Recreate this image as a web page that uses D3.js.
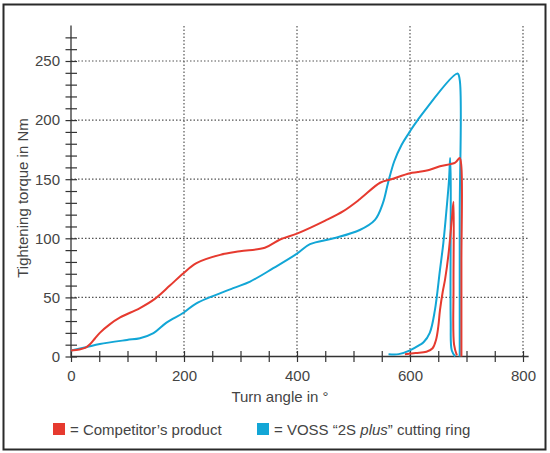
<!DOCTYPE html>
<html>
<head>
<meta charset="utf-8">
<script src="https://cdn.jsdelivr.net/npm/d3@7/dist/d3.min.js"></script>
<style>
  html, body { margin: 0; padding: 0; background: #fff; }
  svg text { font-family: "Liberation Sans", Arial, sans-serif; fill: #444; }
</style>
</head>
<body>
<svg width="550" height="453"></svg>
<script>
// turn angle (deg) / torque (Nm) pairs
var competitorRun1 = [[0,5],[15,6],[26,7.5],[34,10.5],[42,15],[51,20],[68,27],[87,33],[122,41],[149,49],[175,60],[199,70.5],[222,79],
  [264,86],[299,89],[343,92],[370,99],[400,104],[450,115],[482,123],[511,133],[547,147],[567,150],
  [600,155],[614,156],[635,158],[653,161],[680,164],[688,168],[691,160],[691,80],[691,0]];
var competitorRun2 = [[591,2],[610,3],[629,4],[640,7],[646,14],[650,25],[653,39],[658,55],[662,65],
  [668,86],[674,116],[677,131],[677,60],[678,10],[683,1]];
var vossRun1 = [[0,5],[28,8],[51,10.5],[99,14],[122,15.5],[146,19.8],[169,28.7],[199,37],[222,45],
  [287,57.8],[317,63.4],[358,74.7],[400,87],[423,95],[465,100],[511,107],[538,115.6],[552,129.7],
  [561,146.6],[572,165],[585,179],[598,189],[612,199],[684,239.5],[688,234],[688,120],[688,0]];
var vossRun2 = [[562,2],[580,2],[599,5],[618,10],[624,12],[635,20],[644,39],[653,73],[659,96],
  [664,121],[669,149],[671,168],[672,150],[672,30],[674,5],[680,0]];

var xTicks = d3.range(0, 801, 50);
var yTicks = d3.range(0, 271, 10);
var xGrid = [200, 400, 600, 800];
var yGrid = [50, 100, 150, 200, 250];

var redColor = "#e63a2f", cyanColor = "#12a6d6";

var svg = d3.select("svg");

// frame round the whole figure
svg.append("rect")
  .attr("x", 3.5).attr("y", 4.5)
  .attr("width", 542).attr("height", 445)
  .attr("fill", "none")
  .attr("stroke", "#2a2a2a")
  .attr("stroke-width", 2);

var x = d3.scaleLinear().domain([0, 800]).range([71, 523]);
var y = d3.scaleLinear().domain([0, 250]).range([356.5, 61]);

// dotted grid
var grid = svg.append("g")
  .attr("stroke", "#555")
  .attr("stroke-width", 1.2)
  .attr("stroke-dasharray", "1.5,2");

grid.selectAll(".vg").data(xGrid).enter().append("line")
  .attr("x1", d => x(d)).attr("x2", d => x(d))
  .attr("y1", y(0)).attr("y2", y(280));

grid.selectAll(".hg").data(yGrid).enter().append("line")
  .attr("x1", x(0)).attr("x2", x(808))
  .attr("y1", d => y(d)).attr("y2", d => y(d));

// axes
var xAxis = svg.append("g")
  .attr("transform", "translate(0," + y(0) + ")")
  .call(d3.axisBottom(x).tickValues(xTicks).tickSize(0).tickPadding(14)
    .tickFormat(d => d % 200 === 0 ? d : ""));
xAxis.select(".domain").remove();
xAxis.selectAll(".tick line").attr("y1", -5.5).attr("y2", 5.5);

var yAxis = svg.append("g")
  .attr("transform", "translate(" + x(0) + ",0)")
  .call(d3.axisLeft(y).tickValues(yTicks).tickSize(0).tickPadding(11)
    .tickFormat(d => d % 50 === 0 ? d : ""));
yAxis.select(".domain").remove();
yAxis.selectAll(".tick line").attr("x1", -5.5).attr("x2", 6);

svg.selectAll(".tick line").attr("stroke", "#333").attr("stroke-width", 1.2);
svg.selectAll(".tick text").style("font-size", "15px").attr("fill", "#444");

svg.append("line")
  .attr("x1", x(0)).attr("x2", x(810))
  .attr("y1", y(0)).attr("y2", y(0))
  .attr("stroke", "#333").attr("stroke-width", 1.3);
svg.append("line")
  .attr("x1", x(0)).attr("x2", x(0))
  .attr("y1", y(-1)).attr("y2", y(280))
  .attr("stroke", "#333").attr("stroke-width", 1.3);

// axis titles
svg.append("text")
  .attr("x", 280).attr("y", 402)
  .attr("text-anchor", "middle")
  .style("font-size", "15px")
  .text("Turn angle in °");

svg.append("text")
  .attr("transform", "translate(28,198) rotate(-90)")
  .attr("text-anchor", "middle")
  .style("font-size", "15px")
  .text("Tightening torque in Nm");

// curves
var line = d3.line()
  .x(d => x(d[0]))
  .y(d => y(d[1]))
  .curve(d3.curveCatmullRom.alpha(0.5));

var series = [
  {data: vossRun1, color: cyanColor},
  {data: vossRun2, color: cyanColor},
  {data: competitorRun1, color: redColor},
  {data: competitorRun2, color: redColor}
];

svg.append("g").selectAll("path").data(series).enter().append("path")
  .attr("d", d => line(d.data))
  .attr("fill", "none")
  .attr("stroke", d => d.color)
  .attr("stroke-width", 2)
  .attr("stroke-linejoin", "round");

// legend
var legend = svg.append("g");
legend.append("rect").attr("x", 53).attr("y", 423).attr("width", 12).attr("height", 12).attr("fill", redColor);
legend.append("text").attr("x", 70).attr("y", 435).style("font-size", "15px").text("= Competitor’s product");

legend.append("rect").attr("x", 257).attr("y", 423).attr("width", 12).attr("height", 12).attr("fill", cyanColor);
var vossText = legend.append("text").attr("x", 274).attr("y", 435).style("font-size", "15px");
vossText.append("tspan").text("= VOSS “2S ");
vossText.append("tspan").style("font-style", "italic").text("plus");
vossText.append("tspan").text("” cutting ring");
</script>
</body>
</html>
